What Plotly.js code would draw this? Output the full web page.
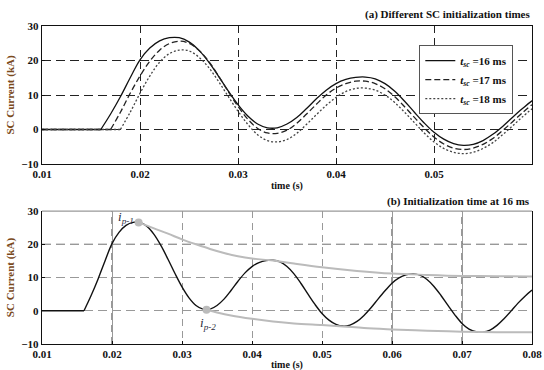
<!DOCTYPE html>
<html><head><meta charset="utf-8">
<script src="https://cdn.plot.ly/plotly-3.0.1.min.js"></script>
<style>html,body{margin:0;padding:0;background:#fff}</style>
</head><body><div id="chart" style="width:544px;height:370px"></div>
<script>
// ---------------- data ----------------
// SC current for initialization at 16 ms (used in both panels)
const t16 = [0.016,0.017,0.018,0.019,0.020,0.021,0.022,0.023,0.024,0.025,0.026,0.027,0.028,0.029,0.030,0.031,0.032,0.033,0.034,0.035,0.036,0.037,0.038,0.039,0.040,0.041,0.042,0.043,0.044,0.045,0.046,0.047,0.048,0.049,0.050,0.051,0.052,0.053,0.054,0.055,0.056,0.057,0.058,0.059,0.060,0.061,0.062,0.063,0.064,0.065,0.066,0.067,0.068,0.069,0.070,0.071,0.072,0.073,0.074,0.075,0.076,0.077,0.078,0.079,0.080];
const i16 = [0,4.5,9.5,15,20.2,23.6,25.7,26.6,26.6,25.4,23,19.6,15.5,11.2,7.2,3.9,1.6,0.5,0.5,1.6,3.5,6.1,8.9,11.4,13.3,14.5,15.1,15.2,14.7,13.3,11.1,8.2,5.0,1.9,-0.8,-2.8,-4.1,-4.6,-4.3,-3.2,-1.4,0.9,3.5,6.0,8.3,9.9,10.8,11.1,10.7,9.4,7.3,4.6,1.6,-1.3,-3.8,-5.5,-6.3,-6.4,-5.8,-4.4,-2.4,-0.1,2.3,4.4,6.2];
// initialization at 17 ms
const t17 = [0.017,0.018,0.019,0.020,0.021,0.022,0.023,0.024,0.025,0.026,0.027,0.028,0.029,0.030,0.031,0.032,0.033,0.034,0.035,0.036,0.037,0.038,0.039,0.040,0.041,0.042,0.043,0.044,0.045,0.046,0.047,0.048,0.049,0.050,0.051,0.052,0.053,0.054,0.055,0.056,0.057,0.058,0.059,0.060];
const i17 = [0,5,10.5,15.5,19.8,23,24.9,25.6,25,23,19.8,15.6,11,6.7,3,0.3,-1,-1.1,-0.2,1.8,4.5,7.3,10,12,13.3,14,14,13.3,11.8,9.5,6.6,3.5,0.5,-2.2,-4.2,-5.4,-5.8,-5.4,-4.3,-2.6,-0.3,2.2,4.8,7.2];
// initialization at 18 ms
const t18 = [0.018,0.019,0.020,0.021,0.022,0.023,0.024,0.025,0.026,0.027,0.028,0.029,0.030,0.031,0.032,0.033,0.034,0.035,0.036,0.037,0.038,0.039,0.040,0.041,0.042,0.043,0.044,0.045,0.046,0.047,0.048,0.049,0.050,0.051,0.052,0.053,0.054,0.055,0.056,0.057,0.058,0.059,0.060];
const i18 = [0,5,10.5,15.5,19.5,22,23,22.8,21,18,14,9.6,5.3,1.5,-1.5,-3.2,-3.6,-2.9,-1.1,1.5,4.3,7,9.3,11,11.9,12,11.4,10,7.8,5,2,-1,-3.6,-5.5,-6.6,-7,-6.6,-5.5,-3.8,-1.5,1,3.6,6];
// pre-fault flat segment
const tPre = [0.010, 0.016, 0.017, 0.018];
// peak envelopes (panel b)
const tUp = [0.0238,0.026,0.028,0.030,0.032,0.034,0.036,0.038,0.040,0.043,0.046,0.050,0.055,0.060,0.065,0.070,0.075,0.080];
const iUp = [26.6,24.8,23.2,21.5,20.0,18.6,17.4,16.4,15.7,15.1,14.2,13.1,12.0,11.2,10.8,10.5,10.4,10.3];
const tLo = [0.0335,0.035,0.037,0.040,0.043,0.046,0.050,0.053,0.056,0.060,0.065,0.070,0.075,0.080];
const iLo = [0.3,-0.5,-1.4,-2.4,-3.2,-3.8,-4.3,-4.7,-5.2,-5.6,-6.0,-6.3,-6.45,-6.5];
// marked peaks
const tPk = [0.0238, 0.0335];
const iPk = [26.6, 0.3];
const pkLabels = ['<i>i</i><sub><i>p-1</i></sub>', '<i>i</i><sub><i>p-2</i></sub>'];
const seriesNames = ['<i>t</i><sub><i>sc</i></sub> =16 ms','<i>t</i><sub><i>sc</i></sub> =17 ms','<i>t</i><sub><i>sc</i></sub> =18 ms'];
// ticks
const yTicks = [-10,0,10,20,30];
const xTicksA = [0.01,0.02,0.03,0.04,0.05];
const xTicksB = [0.01,0.02,0.03,0.04,0.05,0.06,0.07,0.08];
const darkGridXB = [0.02,0.06,0.07];
const darkGridYB = [20];

// ---------------- figure ----------------
const serif = 'Liberation Serif, Times New Roman, serif';
const traces = [
  {x:tPre.slice(0,2), y:[0,0], mode:'lines', line:{color:'#111',width:1.3}, showlegend:false, xaxis:'x', yaxis:'y', hoverinfo:'skip'},
  {x:tPre.slice(0,3), y:[0,0,0], mode:'lines', line:{color:'#222',width:1.3,dash:'6px,3px'}, showlegend:false, xaxis:'x', yaxis:'y', hoverinfo:'skip'},
  {x:tPre, y:[0,0,0,0], mode:'lines', line:{color:'#444',width:1.3,dash:'2px,2px'}, showlegend:false, xaxis:'x', yaxis:'y', hoverinfo:'skip'},
  {x:t16, y:i16, name:seriesNames[0], mode:'lines', line:{color:'#111',width:1.3,shape:'spline'}, xaxis:'x', yaxis:'y'},
  {x:t17, y:i17, name:seriesNames[1], mode:'lines', line:{color:'#222',width:1.3,dash:'6px,3px',shape:'spline'}, xaxis:'x', yaxis:'y'},
  {x:t18, y:i18, name:seriesNames[2], mode:'lines', line:{color:'#444',width:1.3,dash:'2px,2px',shape:'spline'}, xaxis:'x', yaxis:'y'},
  // panel b
  {x:tPre.slice(0,2), y:[0,0], mode:'lines', line:{color:'#111',width:1.4}, showlegend:false, xaxis:'x2', yaxis:'y2'},
  {x:t16, y:i16, mode:'lines', line:{color:'#111',width:1.4,shape:'spline'}, showlegend:false, xaxis:'x2', yaxis:'y2'},
  {x:tUp, y:iUp, mode:'lines', line:{color:'#bbb',width:2,shape:'spline'}, showlegend:false, xaxis:'x2', yaxis:'y2'},
  {x:tLo, y:iLo, mode:'lines', line:{color:'#bbb',width:2,shape:'spline'}, showlegend:false, xaxis:'x2', yaxis:'y2'},
  {x:tPk, y:iPk, mode:'markers', marker:{color:'#bbb',size:8}, showlegend:false, xaxis:'x2', yaxis:'y2'}
];

const gridDash = '7px,5px';
const axFont = {family:serif, size:11, color:'#111', weight:'bold'};
const yTitle = {text:'SC Current (kA)', font:{family:serif, size:11, color:'#7a4a1c', weight:'bold'}, standoff:4};

const shapes = [];
darkGridXB.forEach(v => shapes.push({type:'line', xref:'x2', yref:'y2 domain', x0:v, x1:v, y0:0, y1:1, line:{color:'#333',width:1,dash:'7px,5px'}, layer:'below'}));
darkGridYB.forEach(v => shapes.push({type:'line', xref:'x2 domain', yref:'y2', x0:0, x1:1, y0:v, y1:v, line:{color:'#333',width:1,dash:'9px,5px'}, layer:'below'}));
shapes.push({type:'line', xref:'x2 domain', yref:'y2 domain', x0:0, x1:1, y0:1, y1:1, line:{color:'#999',width:1.2}});

const annotations = [
  {text:'<b>(a) Different SC initialization times</b>', xref:'paper', yref:'y domain', x:1, y:1, xanchor:'right', yanchor:'bottom', yshift:3, showarrow:false, font:{family:serif,size:11,color:'#111'}},
  {text:'<b>(b) Initialization time at 16 ms</b>', xref:'paper', yref:'y2 domain', x:1, y:1, xanchor:'right', yanchor:'bottom', yshift:1, showarrow:false, font:{family:serif,size:11,color:'#111'}},
  {text:'<b>time (s)</b>', xref:'x domain', yref:'y domain', x:0.5, y:0, xanchor:'center', yanchor:'top', yshift:-14, showarrow:false, font:{family:serif,size:10,color:'#111'}},
  {text:'<b>time (s)</b>', xref:'x2 domain', yref:'y2 domain', x:0.5, y:0, xanchor:'center', yanchor:'top', yshift:-13, showarrow:false, font:{family:serif,size:10,color:'#111'}},
  {text:pkLabels[0], xref:'x2', yref:'y2', x:tPk[0], y:iPk[0], xanchor:'right', yanchor:'middle', xshift:-3, yshift:5, showarrow:false, font:{family:serif,size:13,color:'#2a2a3a'}},
  {text:pkLabels[1], xref:'x2', yref:'y2', x:tPk[1], y:iPk[1], xanchor:'center', yanchor:'top', xshift:1, yshift:-3, showarrow:false, font:{family:serif,size:13,color:'#2a2a3a'}}
];

const layout = {
  width:544, height:370,
  margin:{l:42, r:12, t:26, b:26},
  paper_bgcolor:'#fff', plot_bgcolor:'#fff',
  font:{family:serif, size:11, color:'#111'},
  showlegend:true,
  legend:{x:0.77, y:0.94, xanchor:'left', yanchor:'top', bgcolor:'#fff', bordercolor:'#555', borderwidth:1,
          font:{family:serif, size:11, color:'#111', weight:'bold'}, itemwidth:30, tracegroupgap:0},
  xaxis:{domain:[0,1], anchor:'y', range:[0.01,0.06], tickvals:xTicksA, ticktext:xTicksA.map(v=>v.toFixed(2)),
         showgrid:true, gridcolor:'#222', griddash:gridDash, gridwidth:1, zeroline:false,
         showline:true, linecolor:'#111', linewidth:1.2, mirror:true, ticks:'inside', ticklen:3, tickcolor:'#111',
         tickfont:axFont},
  yaxis:{domain:[0.566,1], anchor:'x', range:[-10,30], tickvals:yTicks,
         showgrid:true, gridcolor:'#222', griddash:'9px,5px', gridwidth:1, zeroline:false,
         showline:true, linecolor:'#111', linewidth:1.2, mirror:true, ticks:'inside', ticklen:3, tickcolor:'#111',
         tickfont:axFont, title:yTitle},
  xaxis2:{domain:[0,1], anchor:'y2', range:[0.01,0.08], tickvals:xTicksB, ticktext:xTicksB.map(v=>v.toFixed(2)),
         showgrid:true, gridcolor:'#999', griddash:gridDash, gridwidth:1, zeroline:false,
         showline:true, linecolor:'#111', linewidth:1.2, mirror:false, ticks:'inside', ticklen:3, tickcolor:'#111',
         tickfont:axFont},
  yaxis2:{domain:[0,0.418], anchor:'x2', range:[-10,30], tickvals:yTicks,
         showgrid:true, gridcolor:'#999', griddash:'9px,5px', gridwidth:1, zeroline:false,
         showline:true, linecolor:'#111', linewidth:1.2, mirror:true, ticks:'inside', ticklen:3, tickcolor:'#111',
         tickfont:axFont, title:yTitle},
  shapes:shapes,
  annotations:annotations
};

Plotly.newPlot('chart', traces, layout, {displayModeBar:false, staticPlot:true});
</script>
</body></html>
